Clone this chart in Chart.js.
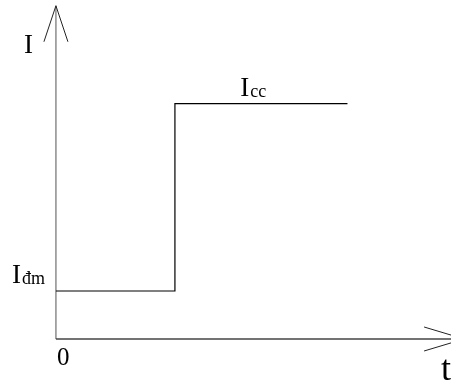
<!DOCTYPE html>
<html>
<head>
<meta charset="utf-8">
<script src="https://cdn.jsdelivr.net/npm/chart.js@4/dist/chart.umd.min.js"></script>
<style>
html,body{margin:0;padding:0;background:#fff;}
canvas{display:block;}
</style>
</head>
<body>
<canvas id="c" width="451" height="380"></canvas>
<script>
// ---- data ----
const times = [0, 1, 2.45];          // t values of the step curve
const current = [1, 4.9, 4.9];       // I values (I_đm -> I_cc)
const axisEnd = { t: 3.43, I: 6.94 }; // axis arrow tips
const axisLabels = { x: 't', y: 'I', origin: '0' };
const levelLabels = [
  { main: 'I', sub: 'đm', value: 1 },
  { main: 'I', sub: 'cc', value: 4.9 }
];

const SERIF = '"Liberation Serif", "DejaVu Serif", serif';

const axesPlugin = {
  id: 'axesPlugin',
  beforeDatasetsDraw(chart) {
    const { ctx, scales: { x, y } } = chart;
    const x0 = x.getPixelForValue(0), y0 = y.getPixelForValue(0);
    const xt = x.getPixelForValue(axisEnd.t), yt = y.getPixelForValue(axisEnd.I);
    ctx.save();
    ctx.lineWidth = 1.3;
    // y axis
    ctx.strokeStyle = '#7a7a7a';
    ctx.beginPath(); ctx.moveTo(x0, y0); ctx.lineTo(x0, yt); ctx.stroke();
    ctx.strokeStyle = '#222';
    ctx.lineWidth = 1;
    ctx.beginPath();
    ctx.moveTo(x0 - 12, yt + 36); ctx.lineTo(x0, yt); ctx.lineTo(x0 + 12, yt + 36);
    ctx.stroke();
    // x axis
    ctx.strokeStyle = '#444';
    ctx.lineWidth = 1.3;
    ctx.beginPath(); ctx.moveTo(x0, y0); ctx.lineTo(xt, y0); ctx.stroke();
    ctx.strokeStyle = '#222';
    ctx.lineWidth = 1;
    ctx.beginPath();
    ctx.moveTo(xt - 40, y0 - 12); ctx.lineTo(xt, y0); ctx.lineTo(xt - 40, y0 + 12);
    ctx.stroke();
    ctx.restore();
  },
  afterDatasetsDraw(chart) {
    const { ctx, scales: { x, y } } = chart;
    const x0 = x.getPixelForValue(0), y0 = y.getPixelForValue(0);
    ctx.save();
    ctx.fillStyle = '#000';
    ctx.textBaseline = 'alphabetic';
    ctx.textAlign = 'left';
    // axis names
    ctx.font = '27px ' + SERIF;
    ctx.fillText(axisLabels.y, x0 - 32, y.getPixelForValue(axisEnd.I) + 47);
    ctx.font = '36px ' + SERIF;
    ctx.fillText(axisLabels.x, x0 + 385, y0 + 41);
    ctx.font = '25px ' + SERIF;
    ctx.fillText(axisLabels.origin, x0 + 1, y0 + 26);
    // level labels
    levelLabels.forEach((l, i) => {
      const py = y.getPixelForValue(l.value) - 8;
      let px;
      if (i === 0) px = x0 - 44;
      else px = x.getPixelForValue((times[1] + times[2]) / 2) - 21;
      ctx.font = '27px ' + SERIF;
      ctx.fillText(l.main, px, py);
      const w = ctx.measureText(l.main).width;
      ctx.font = '18px ' + SERIF;
      ctx.fillText(l.sub, px + w + 1, py + 1);
    });
    ctx.restore();
  }
};

new Chart(document.getElementById('c'), {
  type: 'line',
  data: {
    datasets: [{
      data: times.map((t, i) => ({ x: t, y: current[i] })),
      borderColor: '#000',
      borderWidth: 1.2,
      pointRadius: 0,
      stepped: true,
      fill: false
    }]
  },
  options: {
    responsive: false,
    animation: false,
    events: [],
    layout: { padding: 0 },
    plugins: { legend: { display: false }, tooltip: { enabled: false } },
    scales: {
      x: { type: 'linear', display: false, min: -0.47, max: 3.32 },
      y: { type: 'linear', display: false, min: -0.854, max: 7.06 }
    }
  },
  plugins: [axesPlugin]
});
</script>
</body>
</html>
